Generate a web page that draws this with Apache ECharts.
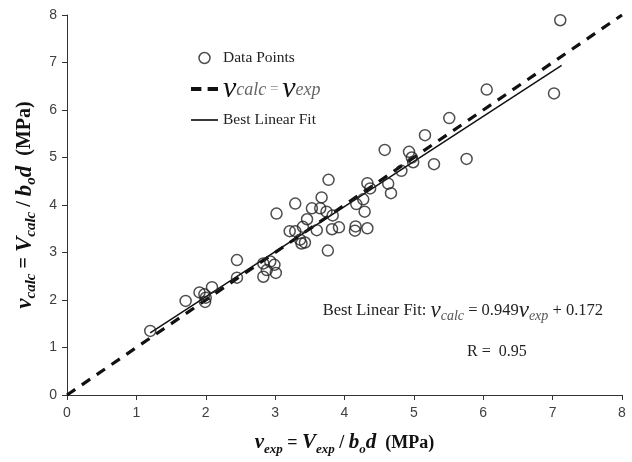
<!DOCTYPE html>
<html>
<head>
<meta charset="utf-8">
<script src="https://cdn.jsdelivr.net/npm/echarts@6/dist/echarts.min.js"></script>
<style>html,body{margin:0;padding:0;background:#fff}#c{width:632px;height:462px}</style>
</head>
<body>
<div id="c"></div>
<script>
// Data: [v_exp, v_calc]
var dataPoints = [
  [1.20, 1.35], [1.71, 1.98], [1.91, 2.16], [1.98, 2.12], [1.99, 1.96], [2.00, 2.05], [2.09, 2.27],
  [2.45, 2.84], [2.45, 2.47],
  [2.83, 2.77], [2.93, 2.81], [2.99, 2.74], [3.01, 2.57], [2.88, 2.63], [2.83, 2.49],
  [3.02, 3.82], [3.29, 4.03], [3.67, 4.16], [3.77, 4.53], [3.53, 3.93], [3.65, 3.93],
  [3.74, 3.86], [3.83, 3.78], [3.46, 3.70], [3.40, 3.54], [3.21, 3.45], [3.29, 3.45],
  [3.60, 3.47], [3.82, 3.49], [3.92, 3.53], [3.36, 3.27], [3.43, 3.21], [3.38, 3.19],
  [3.76, 3.04], [4.17, 4.02], [4.27, 4.12], [4.29, 3.86], [4.16, 3.55], [4.15, 3.46],
  [4.33, 3.51], [4.33, 4.46], [4.37, 4.35], [4.63, 4.45], [4.67, 4.25], [4.82, 4.72],
  [4.58, 5.16], [4.93, 5.12], [4.97, 5.00], [4.99, 4.90], [5.29, 4.86], [5.16, 5.47],
  [5.51, 5.83], [5.76, 4.97], [6.05, 6.43], [7.02, 6.35], [7.11, 7.89]
];
var identityLine = [[0, 0], [8, 8]];
var fitLine = [[1.20, 1.31], [7.13, 6.94]];
var xTicks = [0, 1, 2, 3, 4, 5, 6, 7, 8];
var yTicks = [0, 1, 2, 3, 4, 5, 6, 7, 8];

var serif = '"Liberation Serif", "Times New Roman", serif';
var chart = echarts.init(document.getElementById('c'), null, {renderer: 'canvas'});

function subRich(size, bold) {
  var w = bold ? 'bold' : 'normal';
  return {
    t: {fontFamily: serif, fontSize: size, fontWeight: w, color: '#111', lineHeight: 26, verticalAlign: 'middle'},
    v: {fontFamily: serif, fontSize: size + 3, fontWeight: w, fontStyle: 'italic', color: '#111', lineHeight: 26, verticalAlign: 'middle'},
    s: {fontFamily: serif, fontSize: size - 5, fontWeight: w, fontStyle: 'italic', color: '#111', lineHeight: 20, verticalAlign: 'bottom'}
  };
}

var option = {
  backgroundColor: '#fff',
  animation: false,
  grid: {left: 67, right: 10, top: 15, bottom: 67, containLabel: false},
  title: [
    {
      right: 29, top: 299, padding: 0,
      text: '{t|Best Linear Fit: }{v|v}{g|calc}{t| = 0.949}{v|v}{g|exp}{t| + 0.172}',
      textStyle: {
        fontWeight: 'normal',
        rich: {
          t: {fontFamily: serif, fontSize: 16.5, fontWeight: 'normal', color: '#222', lineHeight: 24, verticalAlign: 'middle'},
          v: {fontFamily: serif, fontSize: 23, fontWeight: 'normal', fontStyle: 'italic', color: '#222', lineHeight: 24, verticalAlign: 'middle'},
          g: {fontFamily: serif, fontSize: 14, fontWeight: 'normal', fontStyle: 'italic', color: '#555', lineHeight: 17, verticalAlign: 'bottom'}
        }
      }
    },
    {
      left: 467, top: 344, padding: 0,
      text: 'R =  0.95',
      textStyle: {fontFamily: serif, fontSize: 16, fontWeight: 'normal', color: '#222'}
    }
  ],
  legend: {
    orient: 'vertical',
    left: 191, top: 48, padding: 0,
    itemWidth: 27, itemHeight: 11,
    itemGap: 6,
    data: [
      {name: 'Data Points', icon: 'circle', itemStyle: {color: 'rgba(0,0,0,0)', borderColor: '#222', borderWidth: 1.5}},
      {name: 'identity', icon: 'path://M0,0 L10,0 L10,4 L0,4 Z M16,0 L26,0 L26,4 L16,4 Z', itemStyle: {color: '#111'}},
      {name: 'fit', icon: 'path://M0,0 L26,0 L26,1.6 L0,1.6 Z', itemStyle: {color: '#111'}}
    ],
    formatter: function (name) {
      if (name === 'identity') return '{v|v}{g|calc}{e| = }{v|v}{g|exp}';
      if (name === 'fit') return 'Best Linear Fit';
      return name;
    },
    textStyle: {
      fontFamily: serif, fontSize: 15.5, color: '#222', lineHeight: 20,
      rich: {
        v: {fontFamily: serif, fontSize: 30, fontStyle: 'italic', color: '#111', lineHeight: 20, verticalAlign: 'middle'},
        g: {fontFamily: serif, fontSize: 18, fontStyle: 'italic', color: '#666', lineHeight: 14, verticalAlign: 'bottom'},
        e: {fontFamily: serif, fontSize: 15, color: '#888', lineHeight: 20, verticalAlign: 'middle'}
      }
    }
  },
  xAxis: {
    type: 'value', min: 0, max: 8, interval: 1,
    name: '{v|v}{s|exp}{t| = }{v|V}{s|exp}{t| / }{v|b}{s|o}{v|d}{t|  (MPa)}',
    nameLocation: 'middle', nameGap: 35,
    nameTextStyle: {rich: subRich(18, true)},
    axisLine: {lineStyle: {color: '#333', width: 1}},
    axisTick: {show: true, length: 5, lineStyle: {color: '#333'}},
    axisLabel: {fontFamily: '"Liberation Sans", Arial, sans-serif', fontSize: 14, color: '#404040', margin: 11,
      formatter: function (v) { return xTicks.indexOf(v) >= 0 ? String(v) : ''; }},
    splitLine: {show: false}
  },
  yAxis: {
    type: 'value', min: 0, max: 8, interval: 1,
    name: '{v|v}{s|calc}{t| = }{v|V}{s|calc}{t| / }{v|b}{s|o}{v|d}{t|  (MPa)}',
    nameLocation: 'middle', nameGap: 26, nameRotate: 90,
    nameTextStyle: {rich: subRich(20, true)},
    axisLine: {show: true, lineStyle: {color: '#333', width: 1}},
    axisTick: {show: true, length: 5, lineStyle: {color: '#333'}},
    axisLabel: {fontFamily: '"Liberation Sans", Arial, sans-serif', fontSize: 14, color: '#404040', margin: 10,
      formatter: function (v) { return yTicks.indexOf(v) >= 0 ? String(v) : ''; }},
    splitLine: {show: false}
  },
  series: [
    {
      name: 'identity', type: 'line', data: identityLine, symbol: 'none', z: 2,
      lineStyle: {color: '#111', width: 3.2, type: [10, 8], cap: 'butt'}
    },
    {
      name: 'fit', type: 'line', data: fitLine, symbol: 'none', z: 3,
      lineStyle: {color: '#111', width: 1.5, type: 'solid'}
    },
    {
      name: 'Data Points', type: 'scatter', data: dataPoints, symbol: 'circle', symbolSize: 11, z: 4,
      itemStyle: {color: 'rgba(0,0,0,0)', borderColor: '#222', borderWidth: 1.5}
    }
  ]
};
chart.setOption(option);
</script>
</body>
</html>
